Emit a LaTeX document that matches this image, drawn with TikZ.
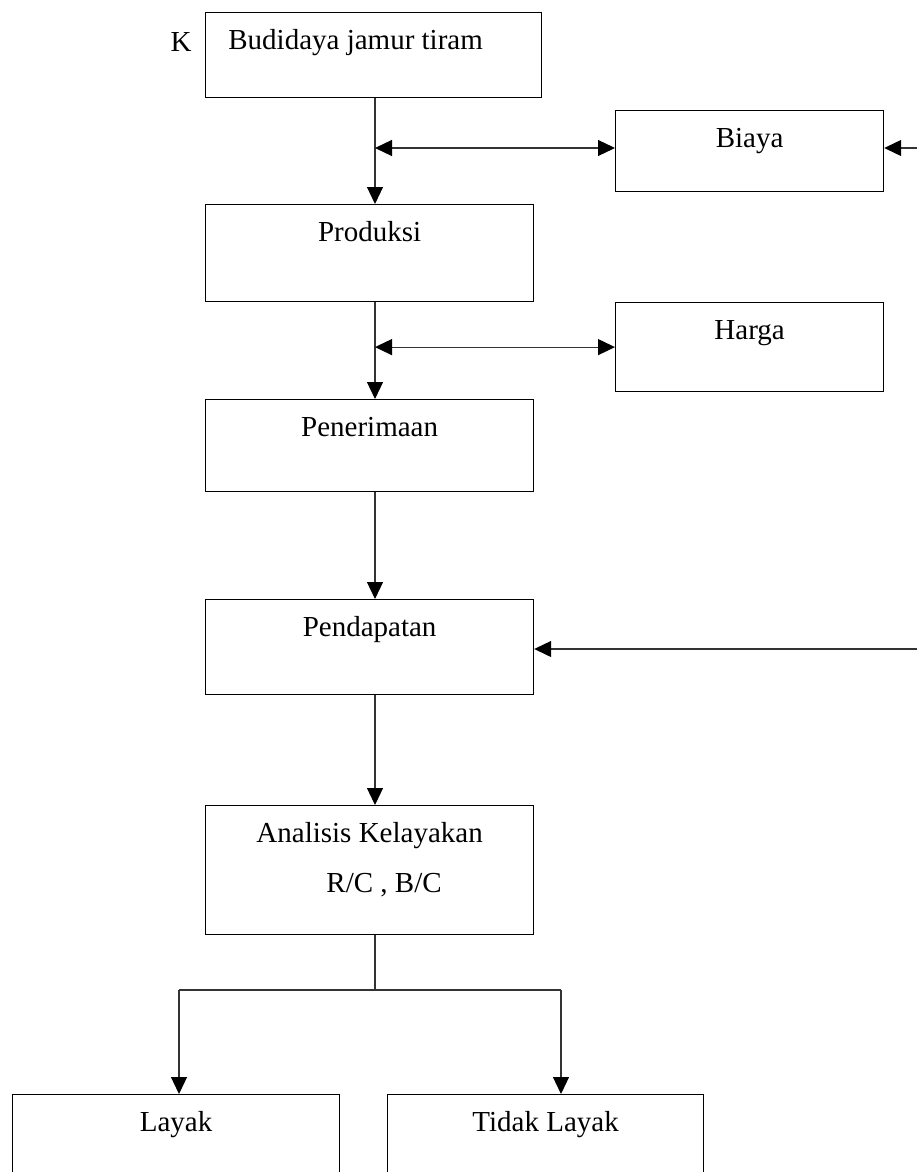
\documentclass[tikz,border=0pt]{standalone}
\usepackage{fontspec}
\setmainfont{Liberation Serif}
\usetikzlibrary{arrows.meta}

\tikzset{
  kotak/.style={draw, line width=0.6pt, anchor=north west, inner sep=0pt,
    text height=18.5pt, font=\fontsize{14.5}{25}\selectfont},
  panah/.style={line width=0.6pt, draw=black!80, ->, >={Triangle[length=8.5pt,width=8pt,color=black]}},
  garis/.style={line width=0.6pt, draw=black!80}
}

\begin{document}
\begin{tikzpicture}[x=0.5pt, y=-0.5pt]
        \clip (0,0) rectangle (917,1172);

        % Kotak
        \node[kotak, minimum width=168pt, text depth=24pt] (budidaya) at (205,12) {Budidaya jamur tiram\hspace*{18pt}};
        \node[kotak, minimum width=134pt, text depth=22pt] (biaya) at (615,110) {Biaya};
        \node[kotak, minimum width=164pt, text depth=30pt] (produksi) at (205,204) {Produksi};
        \node[kotak, minimum width=134pt, text depth=26pt] (harga) at (615,302) {Harga};
        \node[kotak, minimum width=164pt, text depth=27.5pt] (penerimaan) at (205,399) {Penerimaan};
        \node[kotak, minimum width=164pt, text depth=29pt] (pendapatan) at (205,599) {Pendapatan};
        \node[kotak, minimum width=164pt, text depth=46pt] (analisis) at (205,805)
            {\begin{tabular}[t]{@{}l@{}}Analisis Kelayakan\\\hspace*{35pt}R/C , B/C\end{tabular}};
        \node[kotak, minimum width=163.5pt, text depth=30pt] (layak) at (12,1094) {Layak};
        \node[kotak, minimum width=158pt, text depth=30pt] (tidak) at (387,1094) {Tidak Layak};
        \node[anchor=base east, inner sep=0pt, font=\fontsize{14.5}{17}\selectfont] (k) at (192,52) {K};

        % Titik bantu
        \coordinate (sumbu) at (375,0);
        \coordinate (masuk1) at (917,148);
        \coordinate (masuk2) at (917,649);
        \coordinate (cabang) at (375,990);
        \coordinate (kiri) at (179,990);
        \coordinate (kanan) at (561,990);

        % Alur utama
        \draw[panah] (budidaya.south -| sumbu) -- (produksi.north -| sumbu);
        \draw[panah] (produksi.south -| sumbu) -- (penerimaan.north -| sumbu);
        \draw[panah] (penerimaan.south -| sumbu) -- (pendapatan.north -| sumbu);
        \draw[panah] (pendapatan.south -| sumbu) -- (analisis.north -| sumbu);

        % Biaya dan harga
        \draw[panah, <->] (sumbu |- masuk1) -- (biaya.west |- masuk1);
        \draw[panah, <->] (sumbu |- harga.west) -- (harga.west);
        \draw[panah] (masuk1) -- (biaya.east |- masuk1);
        \draw[panah] (masuk2) -- (pendapatan.east |- masuk2);

        % Cabang keputusan
        \draw[garis] (analisis.south -| sumbu) -- (cabang);
        \draw[garis] (kiri) -- (kanan);
        \draw[panah] (kiri) -- (layak.north -| kiri);
        \draw[panah] (kanan) -- (tidak.north -| kanan);
    \end{tikzpicture}
\end{document}
